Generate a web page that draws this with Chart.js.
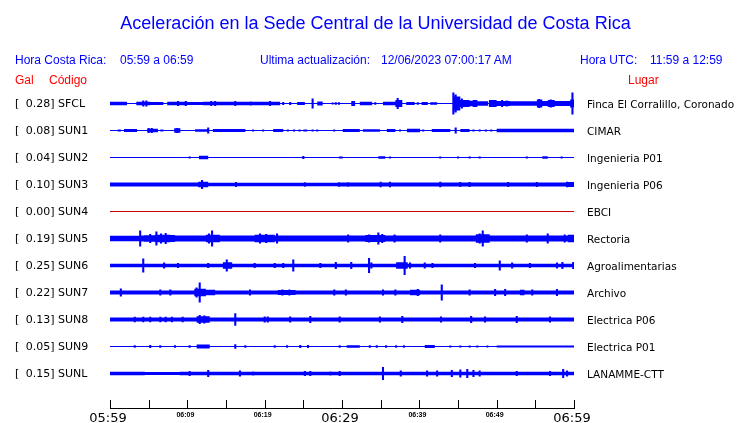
<!DOCTYPE html>
<html><head><meta charset="utf-8">
<script src="https://cdn.jsdelivr.net/npm/chart.js@4.4.0/dist/chart.umd.min.js"></script>
<style>
html,body{margin:0;padding:0;background:#fff;}
#wrap{position:relative;width:740px;height:423px;overflow:hidden;background:#fff;}
#c{position:absolute;left:0;top:0;}
.t{position:absolute;white-space:pre;}
</style></head><body>
<div id="wrap"><canvas id="c" width="740" height="423"></canvas></div>
<script>
// ---------------- DATA ----------------
const stationCodes = ['SFCL','SUN1','SUN2','SUN3','SUN4','SUN5','SUN6','SUN7','SUN8','SUN9','SUNL'];
const peakGal = ['0.28','0.08','0.04','0.10','0.00','0.19','0.25','0.22','0.13','0.05','0.15'];
const places = ['Finca El Corralillo, Coronado','CIMAR','Ingenieria P01','Ingenieria P06','EBCI','Rectoria','Agroalimentarias','Archivo','Electrica P06','Electrica P01','LANAMME-CTT'];
const timeTickMinutes = [0,10,20,30,40,50,60];
const timeTickLabels = ['05:59','06:09','06:19','06:29','06:39','06:49','06:59'];
const minorTickMinutes = [0,5,10,15,20,25,30,35,40,45,50,55,60];

// envelope half-amplitudes: bands = [startMin, endMin, amp], peaks = [min, amp]
const sfclBands = [[0,2.2,1.8],[3.4,5.2,1.8],[5.2,6.9,1.4],[7.4,10.0,1.8],[10.0,12.0,1.5],[12.0,13.8,1.8],[13.8,22.0,1.8],[24.2,25.2,1.6],[26.8,27.5,2],[31.2,31.7,2.5],[32.3,33.9,1.7],[35.3,37.1,1.8],[36.9,37.8,3.5],[38.3,39.4,1.6],[40.3,41.1,1.6],[41.4,42.3,1.3],[44.4,45.3,7],[45.3,46.5,3.5],[46.5,46.9,2.8],[46.9,47.5,3.5],[47.5,48.9,2.2],[49.0,50.0,3.5],[50.0,51.7,2.5],[51.7,55.2,2.2],[55.2,55.9,4],[55.9,56.6,2.5],[56.6,57.5,3.5],[57.5,59.5,2.5],[59.5,60,4]];
const sfclPeaks = [[4.3,3],[4.7,3],[8.8,2.5],[9.8,2.5],[13.1,2.5],[13.6,2.5],[16.2,2.5],[18.2,2],[20.7,2.5],[22.4,1.5],[23.3,1.5],[26.2,5],[28.8,1],[29.2,1.2],[29.6,1.2],[34.3,1.2],[37.2,5.5],[39.8,1.2],[44.4,11],[44.7,9],[45.5,5],[50.7,3.5],[51.3,3],[55.5,4.5],[57.0,4],[59.8,11]];
const sun1Bands = [[1.0,1.4,1],[1.8,3.5,1.5],[4.8,6.2,1.7],[6.5,6.9,1],[8.3,9.1,2.2],[11.0,12.7,1.3],[13.3,17.5,1.5],[21.1,22.4,1.5],[25.0,25.5,1],[30.1,32.3,1.5],[32.7,34.9,1.3],[35.8,36.9,1.5],[38.4,40.1,1.7],[41.6,44.0,1.5],[45.3,46.5,1.5],[50.0,60,1.7]];
const sun1Peaks = [[5.0,2.5],[5.4,2.5],[8.7,2.5],[12.7,3],[18.5,1],[19.8,1],[23.0,1],[23.8,1],[24.5,1],[26.2,1],[26.8,1],[29.0,1],[37.5,1],[40.5,1],[44.7,3],[47.0,1],[47.8,1],[48.6,1],[49.3,1]];
const sun2Bands = [[11.5,12.7,1.7],[29.6,30.1,1],[34.7,35.6,1.2],[55.9,56.6,1.2]];
const sun2Peaks = [[10.3,1],[25.0,1.5],[36.2,1],[42.7,1],[45.0,1],[46.5,1],[47.8,1],[53.9,1],[58.4,1]];
const sun3Bands = [[0,8,2.1],[8,11.4,1.9],[11.4,12.7,2.8],[12.7,23.3,1.8],[23.3,29.7,1.7],[29.7,59.0,2.1],[59.0,60,2.5]];
const sun3Peaks = [[11.9,4.5],[16.3,2.4],[25.2,2.3],[29.6,2.3],[30.8,2.3],[35.0,2.7],[36.2,2.7],[42.7,2.7],[45.3,2.5],[46.5,2.5],[51.5,2.5],[55.2,2.5],[59.1,2.7]];
const sun4Bands = [];
const sun4Peaks = [];
const sun5Bands = [[0,3.8,2.8],[3.8,4.4,3],[4.4,5.8,3.3],[5.8,7.8,3.8],[7.8,8.4,3.5],[8.4,12.4,3],[12.4,14.2,3.8],[14.2,18.7,3],[18.7,21.3,3.7],[21.3,33.0,3],[33.0,35.6,3.6],[35.6,47.3,3],[47.3,49.1,4.2],[49.1,59.2,3],[59.2,60,3.8]];
const sun5Peaks = [[3.9,8],[5.2,4.5],[6.0,7],[6.6,5],[7.2,5.5],[13.2,8],[12.8,5],[19.4,5],[20.2,4.5],[21.6,5],[30.8,4],[33.5,4],[34.7,6],[35.2,4.5],[36.8,4],[42.7,4],[48.2,8],[47.8,5],[53.9,4],[56.6,5],[58.8,4]];
const sun6Bands = [[0,60,1.8],[14.6,15.8,3.3],[37.0,38.5,3.2]];
const sun6Peaks = [[4.3,7],[7.0,3],[8.8,2.5],[12.7,2.5],[15.1,6],[18.7,2.5],[21.3,2.5],[22.4,2.5],[23.7,6],[27.2,2.5],[29.2,3.5],[31.2,3.5],[33.5,7.5],[33.8,3],[38.1,9.5],[38.8,3],[40.7,3],[41.7,2.5],[47.2,2.5],[50.4,5],[52.0,3],[54.3,2.5],[57.8,3],[58.5,3.5],[59.9,3.5]];
const sun7Bands = [[0,60,2.1],[10.9,12.4,3.8],[12.4,13.6,2.8],[21.7,24.0,2.6],[38.8,40.1,2.8],[53.0,53.6,2.8]];
const sun7Peaks = [[1.4,4],[6.5,3],[7.8,3],[11.6,10],[11.2,5],[18.1,3],[22.3,3],[23.2,3],[29.0,3],[30.5,3],[35.3,3],[36.9,3],[39.8,3.5],[42.9,8],[46.5,3],[49.8,3.5],[51.1,3.5],[54.6,3],[57.8,3.5]];
const sun8Bands = [[0,60,2.1],[11.2,12.9,3.2]];
const sun8Peaks = [[3.2,2.8],[4.3,2.8],[5.2,2.8],[6.5,2.8],[7.2,2.8],[8.0,2.8],[9.4,2.8],[11.6,4.5],[12.2,4],[16.2,6.3],[20.0,3],[20.4,3],[23.3,3],[25.9,3.5],[29.7,3],[34.9,3],[37.8,3.5],[42.8,3],[46.7,3.5],[48.5,3],[52.6,3.5],[56.9,3]];
const sun9Bands = [[11.2,12.9,2],[30.6,32.3,1.2],[40.7,42.0,1.5],[50.0,60,1.1]];
const sun9Peaks = [[3.2,1.2],[5.2,1.5],[6.5,1.2],[8.4,1.2],[10.3,1.2],[16.2,2.2],[17.5,1.2],[21.3,1.2],[22.9,1.2],[24.6,1.5],[25.6,1.5],[29.7,1.2],[33.6,1.2],[34.5,1.2],[35.7,1.2],[37.0,1.2],[38.0,1.2],[44.0,1],[45.3,1],[46.5,1],[47.5,1],[48.8,1]];
const sunlBands = [[0,4.5,1.8],[4.5,9.0,1.5],[9.0,60,1.7]];
const sunlPeaks = [[10.3,2.5],[12.7,3.5],[16.8,3],[18.5,2],[25.2,2.5],[25.9,2.5],[28.5,2],[29.7,2.5],[35.3,6.5],[37.6,3],[41.0,3],[42.3,3],[44.2,3.5],[45.3,4],[46.2,4.5],[47.0,3.5],[47.8,3],[52.6,2.5],[56.9,2.5],[58.6,4.5],[59.1,3]];

const stationBands = [sfclBands,sun1Bands,sun2Bands,sun3Bands,sun4Bands,sun5Bands,sun6Bands,sun7Bands,sun8Bands,sun9Bands,sunlBands];
const stationPeaks = [sfclPeaks,sun1Peaks,sun2Peaks,sun3Peaks,sun4Peaks,sun5Peaks,sun6Peaks,sun7Peaks,sun8Peaks,sun9Peaks,sunlPeaks];
const deadStation = 'SUN4';

// ---------------- BUILD ----------------
const BLUE = '#0000ff', RED = '#ff0000', DEAD = '#cc0000';
const GAIN = 1/27;       // amplitude units per row spacing
const PEAK_W = 0.27;     // minutes
const N = stationCodes.length;

function envelope(bands, peaks){
  const segs = bands.map(b=>[b[0],b[1],b[2]]).concat(peaks.map(p=>[p[0]-PEAK_W/2,p[0]+PEAK_W/2,p[1]]));
  let bps = [0,60];
  segs.forEach(s=>{bps.push(Math.max(0,s[0]),Math.min(60,s[1]));});
  bps = [...new Set(bps.map(v=>+v.toFixed(3)))].sort((a,b)=>a-b);
  const out = [];
  for(let i=0;i<bps.length-1;i++){
    const m=(bps[i]+bps[i+1])/2; let a=0.5;
    segs.forEach(s=>{ if(m>=s[0]&&m<=s[1]&&s[2]>a) a=s[2]; });
    out.push({t:bps[i],a});
  }
  out.push({t:60,a:out[out.length-1].a});
  return out;
}

const datasets = [];
stationCodes.forEach((code,i)=>{
  const row = N - i;
  if(code===deadStation){
    datasets.push({data:[{x:0,y:row},{x:60,y:row}],borderColor:DEAD,borderWidth:1,pointRadius:0,fill:false});
    return;
  }
  const env = envelope(stationBands[i], stationPeaks[i]);
  datasets.push({data:env.map(p=>({x:p.t,y:row+p.a*GAIN})),borderWidth:0,borderColor:BLUE,pointRadius:0,stepped:true,fill:false});
  datasets.push({data:env.map(p=>({x:p.t,y:row-p.a*GAIN})),borderWidth:0,borderColor:BLUE,backgroundColor:BLUE,pointRadius:0,stepped:true,fill:'-1'});
});

const axisPlugin = {
  id:'timeAxis',
  afterDraw(chart){
    const ctx=chart.ctx, xs=chart.scales.x, b=Math.round(chart.chartArea.bottom)-0.5;
    ctx.save(); ctx.strokeStyle='#000'; ctx.lineWidth=1;
    ctx.beginPath();
    ctx.moveTo(Math.round(xs.getPixelForValue(0)),b); ctx.lineTo(Math.round(xs.getPixelForValue(60))+1,b);
    minorTickMinutes.forEach(m=>{const px=Math.round(xs.getPixelForValue(m))+0.5; ctx.moveTo(px,b-8.5); ctx.lineTo(px,b);});
    ctx.stroke(); ctx.restore();
  }
};

const chart = new Chart(document.getElementById('c'),{
  type:'line',
  data:{datasets},
  options:{
    responsive:false, animation:false, devicePixelRatio:1,
    layout:{padding:{left:110,right:166,top:76.5,bottom:14}},
    scales:{
      x:{type:'linear',min:0,max:60,display:false},
      y:{type:'linear',min:12-332.5/27,max:12,display:false}
    },
    plugins:{legend:{display:false},tooltip:{enabled:false}},
    elements:{line:{tension:0}}
  },
  plugins:[axisPlugin]
});

// ---------------- TEXT ----------------
const wrap=document.getElementById('wrap');
function txt(s,x,base,size,family,color,align,weight){
  const d=document.createElement('div'); d.className='t'; d.textContent=s;
  d.style.fontFamily=family; d.style.fontSize=size+'px'; d.style.fontWeight=weight||'normal';
  d.style.lineHeight='0'; d.style.color=color;
  d.style.top=(base-0.346*size)+'px';
  if(align==='right'){d.style.right=(740-x)+'px';}
  else if(align==='center'){d.style.left=x+'px';d.style.transform='translateX(-50%)';}
  else d.style.left=x+'px';
  wrap.appendChild(d);
}
const HS='"Liberation Sans", Arial, sans-serif', DV='"DejaVu Sans", sans-serif';
txt('Aceleración en la Sede Central de la Universidad de Costa Rica',375.5,29,18,HS,BLUE,'center');
txt('Hora Costa Rica:',15,64.5,12,HS,BLUE);
txt('05:59 a 06:59',120,64.5,12,HS,BLUE);
txt('Ultima actualización:',260,64.5,12,HS,BLUE);
txt('12/06/2023 07:00:17 AM',381,64.5,12,HS,BLUE);
txt('Hora UTC:',580,64.5,12,HS,BLUE);
txt('11:59 a 12:59',650,64.5,12,HS,BLUE);
txt('Gal',15,84.5,12,HS,RED);
txt('Código',49,84.5,12,HS,RED);
txt('Lugar',628,84.5,12,HS,RED);

const ys=chart.scales.y, xs=chart.scales.x;
stationCodes.forEach((code,i)=>{
  const y=ys.getPixelForValue(N-i)+4;
  txt('[',15,y,11,DV,'#000');
  txt(peakGal[i]+']',54.5,y,11,DV,'#000','right');
  txt(code,58,y,11,DV,'#000');
  txt(places[i],587,y,10.5,DV,'#000');
});
timeTickMinutes.forEach((m,k)=>{
  const px=xs.getPixelForValue(m);
  const major = (m%30===0);
  if(major) txt(timeTickLabels[k],px-2,422,13,DV,'#000','center');
  else txt(timeTickLabels[k],px-2,417,7,HS,'#000','center','bold');
});
</script>
</body></html>
